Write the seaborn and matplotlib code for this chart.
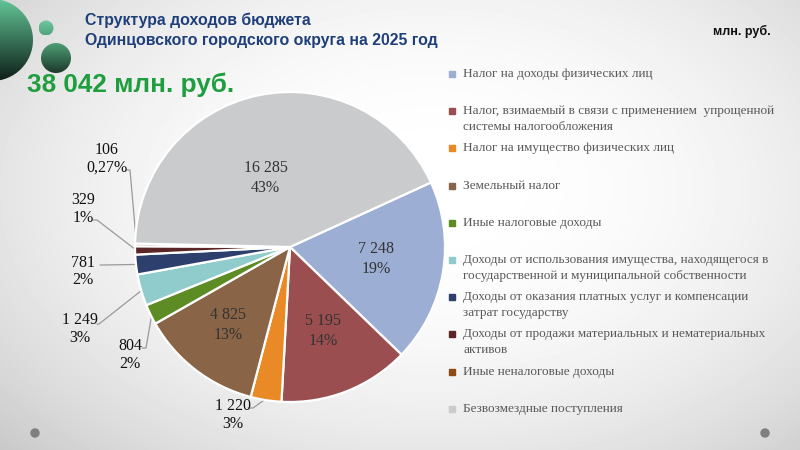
import numpy as np
import matplotlib
matplotlib.use("Agg")
import matplotlib.pyplot as plt
import seaborn as sns
from matplotlib.patches import Circle, Rectangle

# ---------------- data ----------------
categories = [
    "Налог на доходы физических лиц",
    "Налог, взимаемый в связи с применением  упрощенной\nсистемы налогообложения",
    "Налог на имущество физических лиц",
    "Земельный налог",
    "Иные налоговые доходы",
    "Доходы от использования имущества, находящегося в\nгосударственной и муниципальной собственности",
    "Доходы от оказания платных услуг и компенсации\nзатрат государству",
    "Доходы от продажи материальных и нематериальных\nактивов",
    "Иные неналоговые доходы",
    "Безвозмездные поступления",
]
values = [7248, 5195, 1220, 4825, 804, 1249, 781, 329, 106, 16285]
value_labels = ["7 248", "5 195", "1 220", "4 825", "804", "1 249", "781", "329", "106", "16 285"]
pct_labels = ["19%", "14%", "3%", "13%", "2%", "3%", "2%", "1%", "0,27%", "43%"]
colors = ["#9DAED4", "#9B4E50", "#E98A27", "#8A6446", "#5E8C24",
          "#8FCCCB", "#2D3F6C", "#5B2526", "#8E4A12", "#C9CBCD"]

title_lines = ["Структура доходов бюджета", "Одинцовского городского округа на 2025 год"]
total_text = "38 042 млн. руб."
unit_text = "млн. руб."

# ---------------- style ----------------
sns.set_theme(style="white")
plt.rcParams['font.family'] = ['Liberation Serif', 'DejaVu Serif']

W, H = 800, 450
fig = plt.figure(figsize=(8, 4.5), dpi=100)

# background (pixel coordinates, y downwards)
bg = fig.add_axes([0, 0, 1, 1])
bg.set_xlim(0, W)
bg.set_ylim(H, 0)
bg.axis('off')
yy, xx = np.mgrid[0:H, 0:W]
rr = np.sqrt(((xx - 430) / 520.0) ** 2 + ((yy - 190) / 330.0) ** 2)
img = 1 - 0.16 * np.clip(rr, 0, 1.4) ** 2.2
bg.imshow(img, cmap='gray', vmin=0, vmax=1, extent=[0, W, H, 0], aspect='auto', zorder=0)

# decorative circles (top-left)
def grad_circle(ax, cx, cy, r, top, bottom):
    n = 64
    t = np.linspace(0, 1, n)[:, None]
    c0 = np.array(matplotlib.colors.to_rgb(top))
    c1 = np.array(matplotlib.colors.to_rgb(bottom))
    g = (c0[None, None, :] * (1 - t[..., None]) + c1[None, None, :] * t[..., None])
    g = np.repeat(g, 4, axis=1)
    im = ax.imshow(g, extent=[cx - r, cx + r, cy + r, cy - r], aspect='auto', zorder=1)
    clip = Circle((cx, cy), r, transform=ax.transData)
    im.set_clip_path(clip)

grad_circle(bg, -8, 40, 41, "#63C597", "#0E1F18")
grad_circle(bg, 46, 28, 7.5, "#70C9A0", "#4FA47D")
grad_circle(bg, 56, 58, 15, "#4E9E74", "#1C3A2C")
bg.add_patch(Circle((35, 433), 4, color="#7F7F7F", zorder=1))
bg.add_patch(Circle((765, 433), 4, color="#7F7F7F", zorder=1))

# titles
for k, line in enumerate(title_lines):
    bg.text(85, 20 + 21 * k, line, fontsize=11.4, fontweight='bold', color="#1F3F7A",
            family=['Liberation Sans', 'DejaVu Sans'], va='center', ha='left', zorder=3)
bg.text(27, 85, total_text, fontsize=18.8, fontweight='bold', color="#1E9E3E",
        family=['Liberation Sans', 'DejaVu Sans'], va='center', ha='left', zorder=3)
bg.text(742, 31, unit_text, fontsize=9, fontweight='bold', color="#111111",
        family=['Liberation Sans', 'DejaVu Sans'], va='center', ha='center', zorder=3)

# ---------------- pie ----------------
cx, cy, R = 290, 247, 155
pax = fig.add_axes([(cx - R) / W, 1 - (cy + R) / H, 2 * R / W, 2 * R / H])
wedges, _ = pax.pie(values, colors=colors, startangle=24.6, counterclock=False,
                    radius=1, wedgeprops=dict(edgecolor='white', linewidth=1.6))
pax.set_xlim(-1, 1)
pax.set_ylim(-1, 1)
pax.set_aspect('equal')
pax.axis('off')

mids = [np.deg2rad((w.theta1 + w.theta2) / 2) for w in wedges]

# inside labels: index -> (radius, angle offset deg)
inside = {0: (0.56, 2), 1: (0.58, 0), 3: (0.64, -1), 9: (0.47, 8)}
for i, (rad, off) in inside.items():
    a = mids[i] + np.deg2rad(off)
    pax.text(rad * np.cos(a), rad * np.sin(a), value_labels[i] + "\n" + pct_labels[i],
             ha='center', va='center', fontsize=11.5, color="#333333", linespacing=1.35)

# outside labels: index -> (text centre x, first line y, elbow start, elbow end) in pixels
outside = {
    2: ((233, 406), (248, 408), (253, 408)),
    4: ((130, 346), (142, 348), (146, 348)),
    5: ((80, 320), (97, 324), (99, 324)),
    6: ((83, 263), (100, 265), (104, 265)),
    7: ((83, 200), (93, 220), (97, 220)),
    8: ((107, 150), (126, 170), (130, 170)),
}
for i, ((tx, ty), e0, e1) in outside.items():
    a = mids[i]
    wx, wy = cx + R * 0.99 * np.cos(a), cy - R * 0.99 * np.sin(a)
    bg.plot([e0[0], e1[0], wx], [e0[1], e1[1], wy], color="#9A9A9A", lw=0.9, zorder=4)
    bg.text(tx, ty, value_labels[i], ha='center', va='center', fontsize=11.5,
            color="#111111", zorder=5)
    bg.text(tx, ty + 17.5, pct_labels[i], ha='center', va='center', fontsize=11.5,
            color="#111111", zorder=5)

# ---------------- legend ----------------
y0, pitch, lpitch = 74, 37.2, 15.5
for i, (lab, col) in enumerate(zip(categories, colors)):
    y = y0 + pitch * i
    bg.add_patch(Rectangle((449, y - 3), 6, 6, color=col, zorder=3))
    for k, line in enumerate(lab.split("\n")):
        bg.text(463, y + k * lpitch, line, ha='left', va='center', fontsize=9.5,
                color="#595959", zorder=3)

fig.savefig("out.png", dpi=100)
